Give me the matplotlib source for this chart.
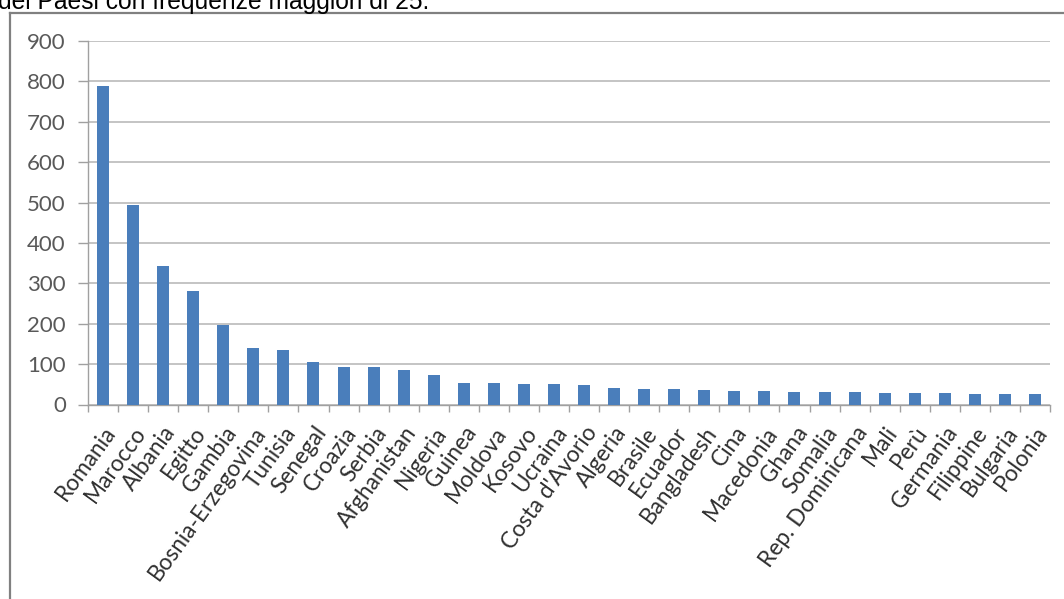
import matplotlib
matplotlib.use("Agg")
import matplotlib.pyplot as plt
from matplotlib.lines import Line2D
import numpy as np

countries = ["Romania", "Marocco", "Albania", "Egitto", "Gambia", "Bosnia-Erzegovina",
             "Tunisia", "Senegal", "Croazia", "Serbia", "Afghanistan", "Nigeria",
             "Guinea", "Moldova", "Kosovo", "Ucraina", "Costa d'Avorio", "Algeria",
             "Brasile", "Ecuador", "Bangladesh", "Cina", "Macedonia", "Ghana",
             "Somalia", "Rep. Dominicana", "Mali", "Perù", "Germania", "Filippine",
             "Bulgaria", "Polonia"]
values = [789, 495, 343, 282, 197, 140, 134, 106, 94, 93, 85, 73,
          53, 53, 51, 51, 48, 40, 39, 39, 36, 34, 34, 31,
          31, 31, 28, 28, 28, 26, 26, 26]
y_ticks = [0, 100, 200, 300, 400, 500, 600, 700, 800, 900]
title_text = "dei Paesi con frequenze maggiori di 25."

W, H = 1064, 599
fig = plt.figure(figsize=(W / 100, H / 100), dpi=100)
fig.patch.set_facecolor("white")

ax = fig.add_axes([88 / W, 1 - 404.5 / H, (1050 - 88) / W, (404.5 - 41) / H])
x = np.arange(len(countries))
ax.bar(x, values, width=0.4, color="#4a7ebb", zorder=3)
ax.set_xlim(-0.5, len(countries) - 0.5)
ax.set_ylim(0, 900)
ax.set_yticks(y_ticks)
ax.set_yticklabels([str(v) for v in y_ticks], fontfamily="Lato", fontsize=16, color="#595959")
ax.tick_params(axis="y", length=7, width=1, color="#a0a0a0", pad=9)
ax.yaxis.grid(True, color="#bfbfbf", linewidth=1.3, zorder=0)
ax.set_xticks(x)
ax.set_xticklabels(countries, rotation=54, ha="right", rotation_mode="anchor",
                   fontfamily="Lato", fontsize=16.3, color="#303030")
ax.tick_params(axis="x", which="major", length=0, pad=13)
ax.set_xticks(np.arange(-0.5, len(countries), 1.0), minor=True)
ax.tick_params(axis="x", which="minor", length=5, width=1, color="#a0a0a0")
for s in ["top", "right"]:
    ax.spines[s].set_visible(False)
ax.spines["left"].set_color("#a0a0a0")
ax.spines["bottom"].set_color("#a0a0a0")
ax.spines["left"].set_linewidth(1)
ax.spines["bottom"].set_linewidth(1)
ax.set_facecolor("white")

# outer chart frame (partly cropped, as in the reference)
fig.add_artist(Line2D([10 / W, 10 / W], [0, 1 - 13 / H], transform=fig.transFigure,
                      color="#808080", linewidth=1.6))
fig.add_artist(Line2D([10 / W, 1], [1 - 13 / H, 1 - 13 / H], transform=fig.transFigure,
                      color="#808080", linewidth=1.6))

fig.text(-2 / W, 1 - 9 / H, title_text, fontfamily="Liberation Sans", fontsize=17.7,
         color="black", va="baseline", ha="left")

fig.savefig("out.png", dpi=100, facecolor="white")
